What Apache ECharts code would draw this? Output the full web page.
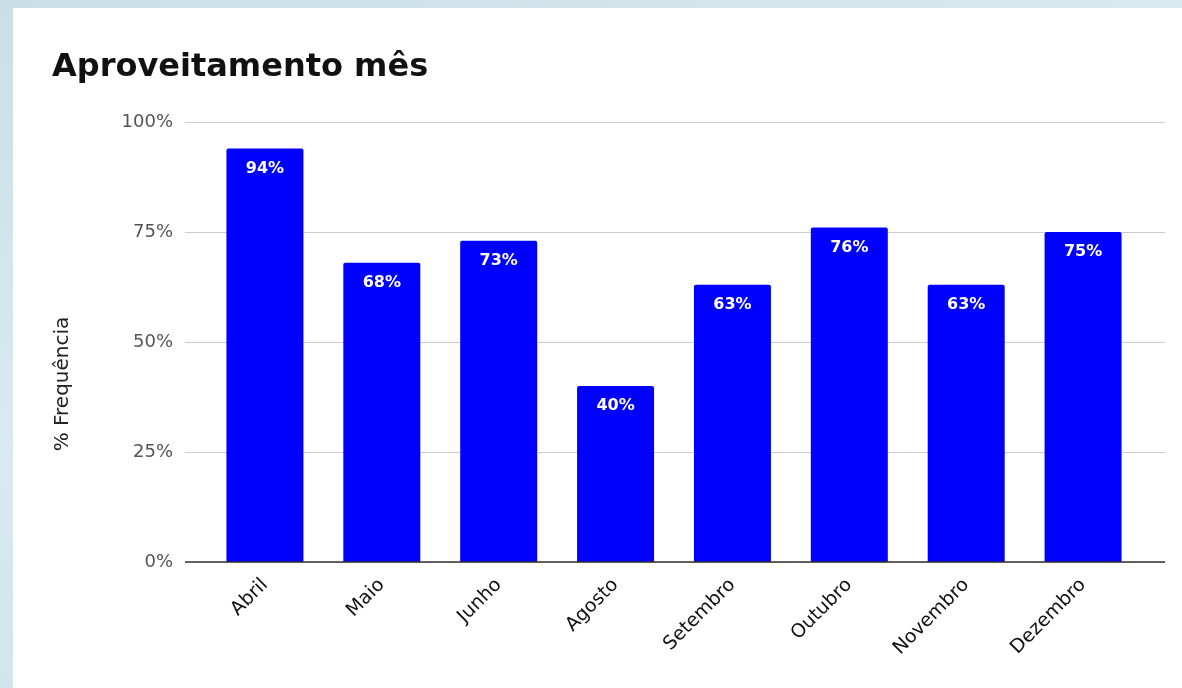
<!DOCTYPE html>
<html>
<head>
<meta charset="utf-8">
<script src="https://cdn.jsdelivr.net/npm/echarts@6/dist/echarts.min.js"></script>
<style>
html,body{margin:0;padding:0;width:1182px;height:688px;overflow:hidden;}
body{background:linear-gradient(160deg,#c9dfe6 0%,#d8eaef 40%,#c4dce4 100%);position:relative;}
#card{position:absolute;left:13px;top:8px;width:1169px;height:680px;background:#fff;}
#chart{position:absolute;left:0;top:0;width:1182px;height:688px;}
</style>
</head>
<body>
<div id="card"></div>
<div id="chart"></div>
<script>
const categories = ['Abril','Maio','Junho','Agosto','Setembro','Outubro','Novembro','Dezembro'];
const values = [94, 68, 73, 40, 63, 76, 63, 75];
const yTicks = [0, 25, 50, 75, 100];

const chart = echarts.init(document.getElementById('chart'));
const FONT = '"DejaVu Sans", "Liberation Sans", Arial, sans-serif';
chart.setOption({
  animation: false,
  textStyle: { fontFamily: FONT },
  title: {
    text: 'Aproveitamento mês',
    left: 47, top: 47,
    textStyle: { fontFamily: FONT, fontSize: 32, fontWeight: 'bold', color: '#111' }
  },
  grid: [
    { left: 185, right: 17, top: 122, bottom: 126 },
    { left: 206.5, width: 935, top: 122, bottom: 126 }
  ],
  xAxis: [
    { gridIndex: 0, type: 'category', data: categories, show: false },
    { gridIndex: 1, type: 'category', data: categories,
      axisLine: { show: false }, axisTick: { show: false },
      axisLabel: { rotate: 45, color: '#111', fontSize: 19, margin: 20, fontFamily: FONT } }
  ],
  yAxis: [
    { gridIndex: 0, type: 'value', min: 0, max: 100, interval: 25,
      name: '% Frequência', nameLocation: 'middle', nameGap: 112, nameRotate: 90,
      nameTextStyle: { color: '#222', fontSize: 20, fontFamily: FONT, padding: [0, 0, 0, -84] },
      axisLine: { show: false }, axisTick: { show: false },
      axisLabel: { color: '#555', fontSize: 18, margin: 12, formatter: v => yTicks.includes(v) ? v + '%' : '' },
      splitLine: { lineStyle: { color: '#cccccc', width: 1 } } },
    { gridIndex: 1, type: 'value', min: 0, max: 100, interval: 25, show: false }
  ],
  series: [
    { type: 'line', xAxisIndex: 0, yAxisIndex: 0, data: [], silent: true,
      markLine: { symbol: 'none', silent: true, label: { show: false },
        lineStyle: { color: '#333', width: 1.5, type: 'solid' }, data: [{ yAxis: 0 }] } },
    { type: 'bar', xAxisIndex: 1, yAxisIndex: 1, data: values, barWidth: 77,
      itemStyle: { color: '#0000ff', borderRadius: [2, 2, 0, 0] },
      label: { show: true, position: 'insideTop', distance: 12, color: '#fff',
        fontSize: 16, fontWeight: 'bold', fontFamily: FONT, formatter: p => p.value + '%' } }
  ]
});
</script>
</body>
</html>
